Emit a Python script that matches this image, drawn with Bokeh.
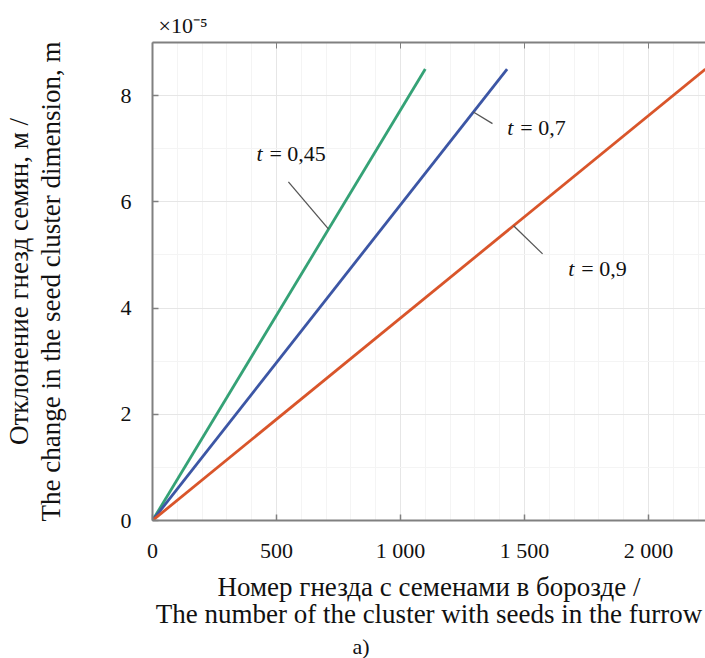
from bokeh.plotting import figure
from bokeh.models import Range1d, LinearAxis, CustomJSTickFormatter, Label, FixedTicker, ColumnDataSource, Title
from bokeh.embed import file_html
from bokeh.resources import INLINE

# ---- data ----
t_labels = ["0,45", "0,7", "0,9"]
x_start = [0, 0, 0]
y_start = [0.0, 0.0, 0.0]
x_end = [1100, 1430, 2230]
y_end = [8.5e-5, 8.5e-5, 8.5e-5]
line_colors = ["#35a276", "#3c56a5", "#d9552a"]

x_ticks = [0, 500, 1000, 1500, 2000]
x_tick_labels = ["0", "500", "1 000", "1 500", "2 000"]
y_ticks = [0, 2e-5, 4e-5, 6e-5, 8e-5]
y_tick_labels = ["0", "2", "4", "6", "8"]

x_title = "Номер гнезда с семенами в борозде /\nThe number of the cluster with seeds in the furrow"
y_title = "Отклонение гнезд семян, м /\nThe change in the seed cluster dimension, m"
exp_text = "×10⁻⁵"
panel_tag = "a)"

FONT = "Liberation Serif"
AXIS_GRAY = "#808080"
TXT = "#111111"

p = figure(width=705, height=658, output_backend="svg", toolbar_location=None,
           x_range=Range1d(0, 2230), y_range=Range1d(0, 9e-5),
           min_border_left=152, min_border_right=0, min_border_top=42, min_border_bottom=137)
p.outline_line_color = None
p.background_fill_color = "white"

fmt_code = """
let best = 0;
for (let i = 0; i < tvals.length; i++) {
  if (Math.abs(tvals[i] - tick) < Math.abs(tvals[best] - tick)) best = i;
}
return tlabels[best];
"""
p.xaxis.ticker = FixedTicker(ticks=x_ticks, minor_ticks=list(range(0, 2300, 100)))
p.yaxis.ticker = FixedTicker(ticks=y_ticks, minor_ticks=[i * 1e-5 for i in range(0, 10)])
p.xaxis.formatter = CustomJSTickFormatter(args=dict(tvals=x_ticks, tlabels=x_tick_labels), code=fmt_code)
p.yaxis.formatter = CustomJSTickFormatter(args=dict(tvals=y_ticks, tlabels=y_tick_labels), code=fmt_code)

for ax in (p.xaxis[0], p.yaxis[0]):
    ax.axis_line_color = AXIS_GRAY
    ax.axis_line_width = 2
    ax.major_tick_line_color = AXIS_GRAY
    ax.major_tick_line_width = 1.5
    ax.major_tick_in = 6
    ax.major_tick_out = 0
    ax.minor_tick_in = 0
    ax.minor_tick_out = 0
    ax.major_label_text_font = FONT
    ax.major_label_text_font_size = "22px"
    ax.major_label_text_color = TXT
    ax.axis_label_text_font = FONT
    ax.axis_label_text_font_size = "27px"
    ax.axis_label_text_font_style = "normal"
    ax.axis_label_text_color = TXT

p.xaxis.axis_label_text_line_height = 0.91
p.yaxis.axis_label_text_line_height = 1.04
p.xaxis.axis_label = x_title
p.yaxis.axis_label = y_title
p.xaxis.major_label_standoff = 17
p.yaxis.major_label_standoff = 21
p.xaxis.axis_label_standoff = 6
p.yaxis.axis_label_standoff = 52

top = LinearAxis(ticker=FixedTicker(ticks=x_ticks),
                 formatter=CustomJSTickFormatter(code="return '';"))
top.axis_line_color = AXIS_GRAY
top.axis_line_width = 2
top.major_tick_line_color = AXIS_GRAY
top.major_tick_in = 6
top.major_tick_out = 0
top.minor_tick_in = 0
top.minor_tick_out = 0
top.major_label_standoff = 0
top.major_label_text_font_size = "1px"
p.add_layout(top, "above")

p.xgrid.grid_line_color = "#e6e6e6"
p.ygrid.grid_line_color = "#e6e6e6"
p.xgrid.minor_grid_line_color = "#f4f4f4"
p.ygrid.minor_grid_line_color = "#f4f4f4"

src = ColumnDataSource(dict(
    xs=[[a, b] for a, b in zip(x_start, x_end)],
    ys=[[a, b] for a, b in zip(y_start, y_end)],
    color=line_colors,
))
p.multi_line(xs="xs", ys="ys", line_color="color", line_width=2.8, source=src)

# callout leader lines: anchor on each series (x position), leader to label
anchor_x = [710, 1294, 1456]
leader_dx = [-162, 77, 117]
leader_dy = [0.89e-5, -0.22e-5, -0.53e-5]
ax_ = []; ay_ = []; bx_ = []; by_ = []
for i in range(3):
    ay = y_end[i] / x_end[i] * anchor_x[i]
    ax_.append(anchor_x[i]); ay_.append(ay)
    bx_.append(anchor_x[i] + leader_dx[i]); by_.append(ay + leader_dy[i])
p.segment(x0=ax_, y0=ay_, x1=bx_, y1=by_, line_color="#555555", line_width=1.3)

label_pos = [(419, 6.91e-5), (1431, 7.40e-5), (1677, 4.75e-5)]
for (lx, ly), lab in zip(label_pos, t_labels):
    p.add_layout(Label(x=lx, y=ly, text="t", text_font=FONT, text_font_style="italic",
                       text_font_size="22px", text_baseline="middle", text_color=TXT))
    p.add_layout(Label(x=lx, y=ly, x_offset=13, text="= " + lab, text_font=FONT,
                       text_font_size="22px", text_baseline="middle", text_color=TXT))

# exponent multiplier above the frame, panel tag below
p.add_layout(Title(text=exp_text, align="left", offset=6, standoff=10, text_font=FONT,
                   text_font_size="22px", text_font_style="normal", text_color=TXT), "above")
p.add_layout(Title(text=panel_tag, align="left", offset=200, standoff=0, text_font=FONT,
                   text_font_size="22px", text_font_style="normal", text_color=TXT), "below")

open("out.html", "w").write(file_html(p, INLINE))
